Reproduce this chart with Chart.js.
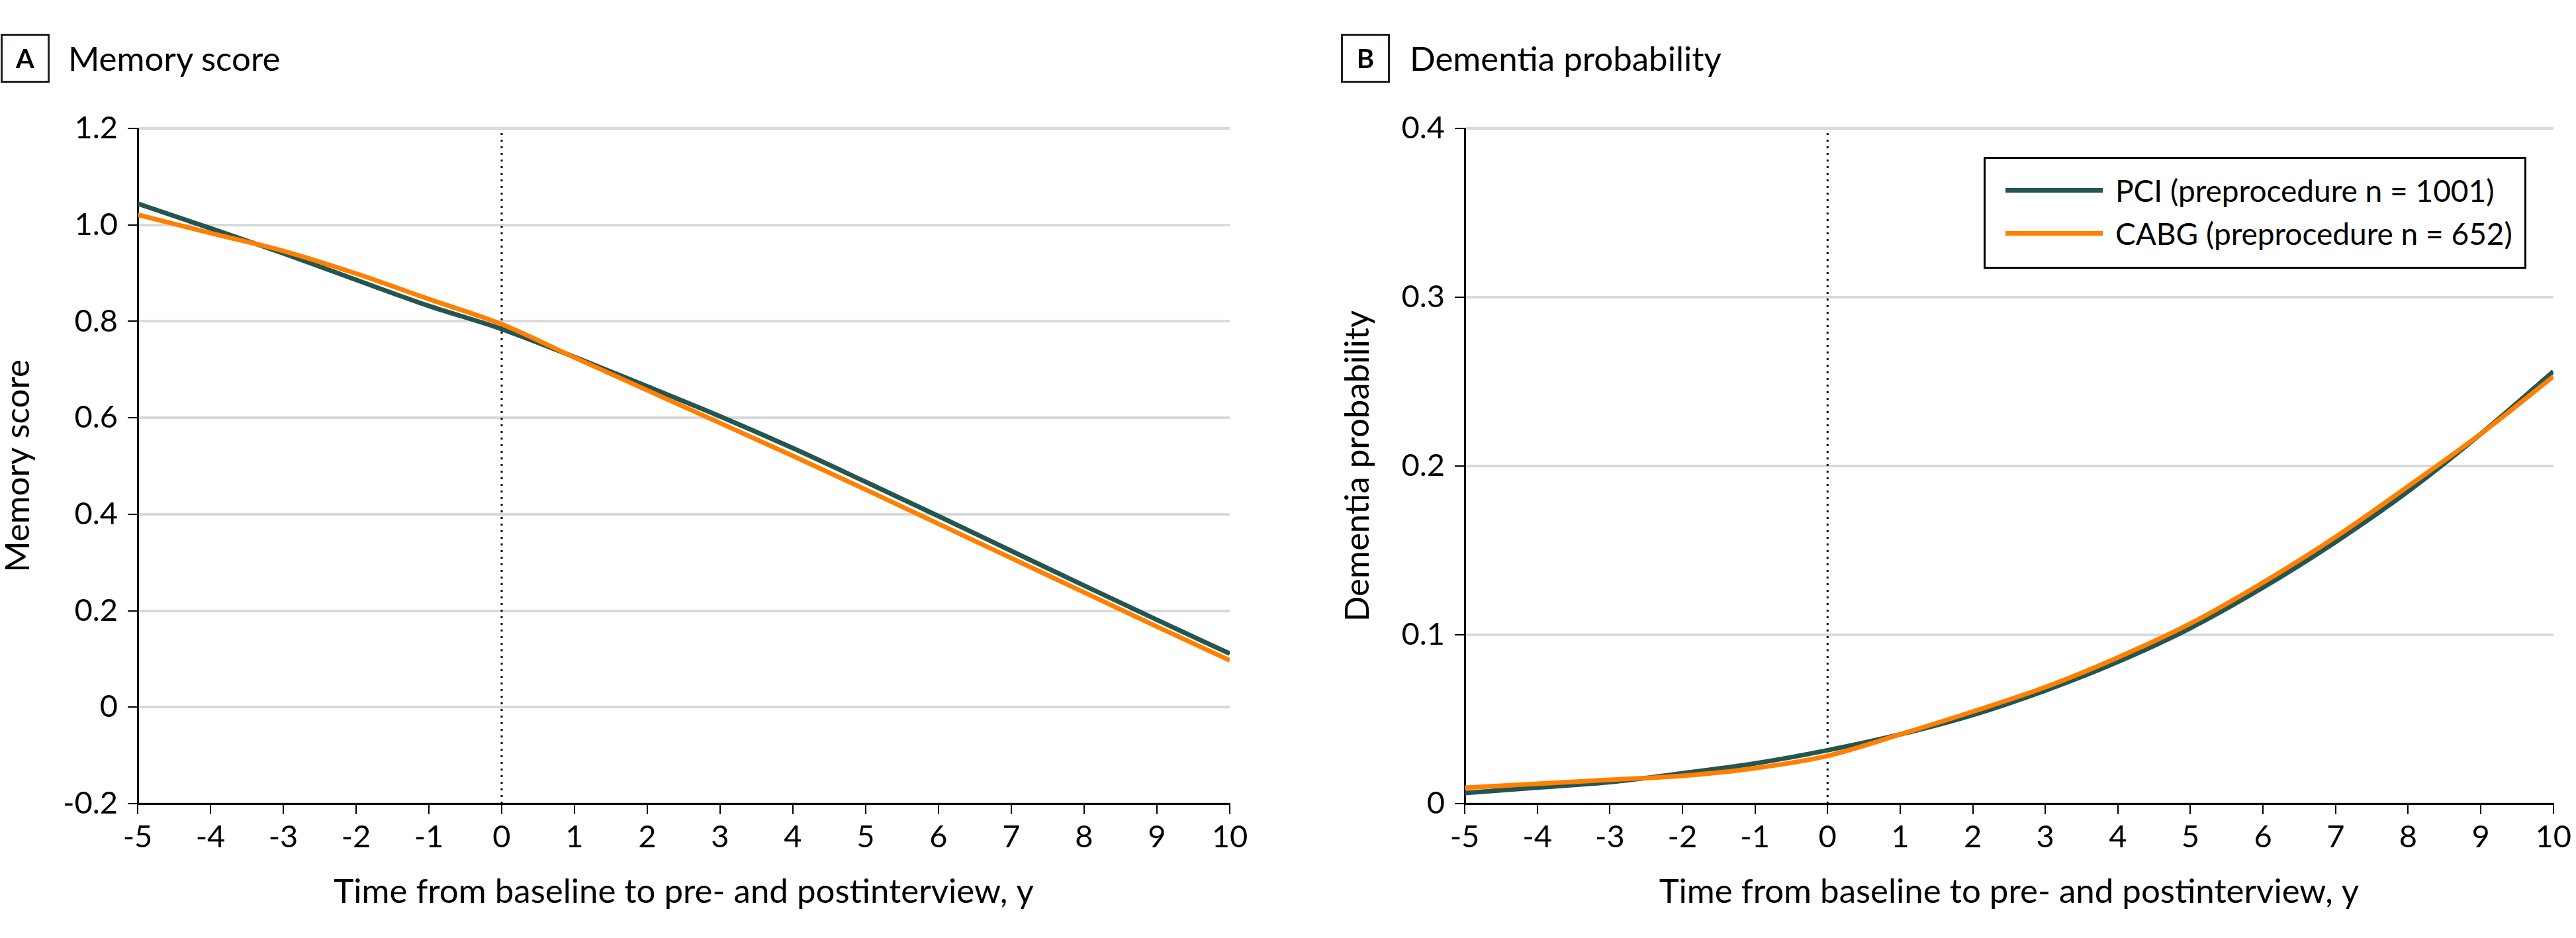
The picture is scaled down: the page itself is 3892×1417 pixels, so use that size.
<!DOCTYPE html>
<html>
<head>
<meta charset="utf-8">
<title>Memory score and dementia probability</title>
<script src="https://cdn.jsdelivr.net/npm/chart.js@4.4.1/dist/chart.umd.min.js"></script>
<style>
  body { margin: 0; background: #fff; font-family: Lato, "Open Sans", sans-serif; color: #000; }
  #page { position: relative; width: 3892px; height: 1417px; overflow: hidden; }
  .panel { position: absolute; top: 0; width: 1946px; height: 1417px; }
  .panel canvas { position: absolute; left: 0; top: 0; }
  .tag {
    position: absolute; top: 51px; width: 68px; height: 68px;
    border: 3px solid #231f20; font-weight: 700; font-size: 40px;
    display: flex; align-items: center; justify-content: center;
  }
  .heading { position: absolute; top: 62px; font-size: 51px; line-height: 51px; white-space: nowrap; }
  .legend {
    position: absolute; left: 1051px; top: 237px; width: 820px; height: 169px;
    box-sizing: border-box; border: 3px solid #000; background: #fff;
  }
  .legend .item { position: absolute; left: 30px; height: 50px; display: flex; align-items: center; font-size: 46px; white-space: nowrap; }
  .legend .swatch { display: inline-block; width: 147px; height: 7px; margin-right: 19px; }
</style>
</head>
<body>
<div id="page">
  <div class="panel" style="left:0">
    <canvas id="memoryChart" width="1946" height="1417"></canvas>
    <div class="tag" style="left:1px">A</div>
    <div class="heading" style="left:103px">Memory score</div>
  </div>
  <div class="panel" style="left:1946px">
    <canvas id="dementiaChart" width="1946" height="1417"></canvas>
    <div class="tag" style="left:80px">B</div>
    <div class="heading" style="left:184px">Dementia probability</div>
    <div class="legend" id="legend"></div>
  </div>
</div>
<script>
// years relative to baseline
const years = [-5, -4, -3, -2, -1, 0, 1, 2, 3, 4, 5, 6, 7, 8, 9, 10];

const memoryPCI  = [1.044, 0.993, 0.941, 0.886, 0.832, 0.784, 0.726, 0.665, 0.603, 0.537, 0.467, 0.396, 0.324, 0.252, 0.181, 0.111];
const memoryCABG = [1.021, 0.983, 0.946, 0.899, 0.846, 0.794, 0.725, 0.657, 0.589, 0.521, 0.451, 0.380, 0.309, 0.238, 0.167, 0.097];

const dementiaPCI  = [0.0063, 0.0095, 0.0127, 0.0180, 0.0238, 0.0316, 0.0410, 0.0525, 0.0670, 0.0840, 0.1040, 0.1280, 0.1550, 0.1850, 0.2190, 0.2560];
const dementiaCABG = [0.0094, 0.0118, 0.0141, 0.0165, 0.0210, 0.0283, 0.0410, 0.0545, 0.0690, 0.0866, 0.1067, 0.1310, 0.1580, 0.1880, 0.2190, 0.2530];

const memoryTicks = [-0.2, 0, 0.2, 0.4, 0.6, 0.8, 1.0, 1.2];
const memoryTickLabels = ['-0.2', '0', '0.2', '0.4', '0.6', '0.8', '1.0', '1.2'];
const dementiaTicks = [0, 0.1, 0.2, 0.3, 0.4];
const dementiaTickLabels = ['0', '0.1', '0.2', '0.3', '0.4'];

const seriesNames = ['PCI (preprocedure n = 1001)', 'CABG (preprocedure n = 652)'];
const seriesColors = ['#245550', '#ff8000'];
const procedureYear = 0;
const xTitle = 'Time from baseline to pre- and postinterview, y';

const tickFont = { family: 'Lato, "Open Sans", sans-serif', size: 47 };
const labelFont = { family: 'Lato, "Open Sans", sans-serif', size: 51, lineHeight: 1 };

function toPoints(values) {
    return years.map((x, i) => ({ x: x, y: values[i] }));
}

function makePanel(id, pci, cabg, ticks, tickLabels, yTitle, padLeft, padRight, yWidth, yTitlePad) {
    const yMin = ticks[0];
    const yMax = ticks[ticks.length - 1];
    const line = (label, values, color, order) => ({
        label: label,
        data: toPoints(values),
        borderColor: color,
        borderWidth: 7,
        pointRadius: 0,
        fill: false,
        cubicInterpolationMode: 'monotone',
        order: order
    });

    return new Chart(document.getElementById(id), {
        type: 'line',
        data: {
            datasets: [
                line(seriesNames[0], pci, seriesColors[0], 1),
                line(seriesNames[1], cabg, seriesColors[1], 0),
                {
                    label: 'procedure',
                    data: [{ x: procedureYear, y: yMin }, { x: procedureYear, y: yMax }],
                    borderColor: '#000',
                    borderWidth: 3,
                    borderDash: [3, 7],
                    pointRadius: 0,
                    order: 2
                }
            ]
        },
        options: {
            responsive: false,
            animation: false,
            events: [],
            layout: { padding: { left: padLeft, right: padRight, top: 194, bottom: 0 } },
            plugins: { legend: { display: false }, tooltip: { enabled: false } },
            scales: {
                x: {
                    type: 'linear',
                    min: years[0],
                    max: years[years.length - 1],
                    afterBuildTicks: s => { s.ticks = years.map(v => ({ value: v })); },
                    afterFit: s => { s.height = 203; },
                    ticks: { font: tickFont, color: '#000', padding: 7, maxRotation: 0, autoSkip: false },
                    grid: { drawOnChartArea: false, color: '#000', lineWidth: 2, tickLength: 16 },
                    border: { color: '#000', width: 3 },
                    title: { display: true, text: xTitle, font: labelFont, color: '#000', padding: { top: 0, bottom: 44 } }
                },
                y: {
                    type: 'linear',
                    min: yMin,
                    max: yMax,
                    afterBuildTicks: s => { s.ticks = ticks.map(v => ({ value: v })); },
                    afterFit: s => { s.width = yWidth; },
                    ticks: { font: tickFont, color: '#000', padding: 15, callback: (v, i) => tickLabels[i] },
                    grid: { color: '#d9d9d9', lineWidth: 4, tickColor: '#000', tickWidth: 2, tickLength: 15 },
                    border: { color: '#000', width: 3 },
                    title: { display: true, text: yTitle, font: labelFont, color: '#000', padding: { top: yTitlePad, bottom: 0 } }
                }
            }
        }
    });
}

function buildLegend() {
    const box = document.getElementById('legend');
    const rowTops = [22, 87];
    seriesNames.forEach((name, i) => {
        const item = document.createElement('div');
        item.className = 'item';
        item.style.top = rowTops[i] + 'px';
        const swatch = document.createElement('span');
        swatch.className = 'swatch';
        swatch.style.background = seriesColors[i];
        const text = document.createElement('span');
        text.textContent = name;
        item.appendChild(swatch);
        item.appendChild(text);
        box.appendChild(item);
    });
}

makePanel('memoryChart', memoryPCI, memoryCABG, memoryTicks, memoryTickLabels, 'Memory score', 0, 88, 208, 2);
makePanel('dementiaChart', dementiaPCI, dementiaCABG, dementiaTicks, dementiaTickLabels, 'Dementia probability', 80, 30, 187, 0);
buildLegend();
</script>
</body>
</html>
